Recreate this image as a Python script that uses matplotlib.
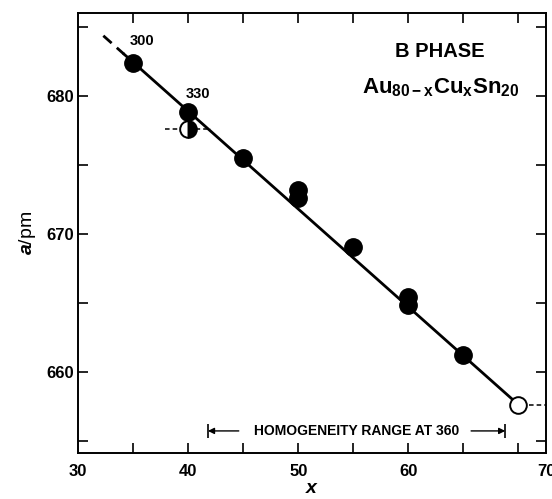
import matplotlib
matplotlib.use('Agg')
import matplotlib.pyplot as plt

# lattice parameter a vs x for Au(80-x)Cu(x)Sn(20), B phase
x_filled = [35, 40, 45, 50, 50, 55, 60, 60, 65]
a_filled = [682.4, 678.8, 675.5, 673.2, 672.6, 669.0, 665.4, 664.8, 661.2]
x_open = [40, 70]
a_open = [677.6, 657.6]
temp_labels = ['300', '330']
temp_x = [35.8, 40.9]
temp_a = [684.0, 680.1]
fit_x_dash = [32.3, 34.2]
fit_x_solid = [34.2, 70]
fit_a_dash = [684.35, 683.0]
fit_a_solid = [683.0, 657.6]
homog_range = [41.8, 68.8]
homog_a = 655.7

plt.rcParams['font.family'] = ['Liberation Sans', 'DejaVu Sans']
plt.rcParams['font.weight'] = 'bold'
plt.rcParams['mathtext.fontset'] = 'custom'
plt.rcParams['mathtext.rm'] = 'Liberation Sans:bold'
plt.rcParams['mathtext.it'] = 'Liberation Sans:italic:bold'

fig = plt.figure(figsize=(5.52, 4.99), dpi=100)
ax = fig.add_axes([0.1413, 0.0922, 0.8478, 0.8818])
ax.set_xlim(30, 72.5)
ax.set_ylim(654.1, 686.0)

ax.plot(fit_x_solid, fit_a_solid, color='black', lw=2, zorder=2)
ax.plot(fit_x_dash, fit_a_dash, color='black', lw=2, dashes=(4, 2.5), zorder=2)

# dashed guides through the open symbols
ax.plot([x_open[0] - 2.1, x_open[0] + 2.1], [a_open[0]] * 2, color='black', lw=1.1, dashes=(3, 2), zorder=1)
ax.plot([x_open[1] + 1.0, 72.5], [a_open[1]] * 2, color='black', lw=1.1, dashes=(3, 2), zorder=1)

ax.plot(x_open[:1], a_open[:1], 'o', ms=12, mec='black', mew=1.4, fillstyle='right',
        mfc='black', markerfacecoloralt='white', zorder=3)
ax.plot(x_open[1:], a_open[1:], 'o', ms=12, mec='black', mew=1.4, mfc='white', zorder=3)
ax.plot(x_filled, a_filled, 'o', ms=12.5, color='black', zorder=4)

for t, tx, ta in zip(temp_labels, temp_x, temp_a):
    ax.text(tx, ta, t, fontsize=10.5, ha='center', va='center')

ax.text(62.9, 683.2, 'B PHASE', fontsize=14.5, ha='center', va='center')
ax.text(62.9, 680.6, r'Au$_{\mathrm{80-x}}$Cu$_{\mathrm{x}}$Sn$_{\mathrm{20}}$', fontsize=16, ha='center', va='center')

# homogeneity range
ax.text(sum(homog_range) / 2, homog_a, 'HOMOGENEITY RANGE AT 360', fontsize=10, ha='center', va='center')
ax.annotate('', xy=(homog_range[0], homog_a), xytext=(44.6, homog_a),
            arrowprops=dict(arrowstyle='-|>', color='black', lw=1, mutation_scale=9, shrinkA=0, shrinkB=0))
ax.annotate('', xy=(homog_range[1], homog_a), xytext=(65.7, homog_a),
            arrowprops=dict(arrowstyle='-|>', color='black', lw=1, mutation_scale=9, shrinkA=0, shrinkB=0))
ax.plot(homog_range, [homog_a] * 2, '|', color='black', ms=10, mew=1.2)

ax.set_xticks([30, 40, 50, 60, 72.5])
ax.set_xticklabels(['30', '40', '50', '60', '70'])
ax.set_xticks([35, 45, 55, 65, 70], minor=True)
ax.set_yticks([660, 670, 680])
ax.set_yticks([655, 665, 675, 685], minor=True)
ax.tick_params(which='both', direction='in', top=True, right=True, length=7, width=1.2,
               labelsize=12, pad=3)
ax.tick_params(axis='x', which='major', length=0, pad=8)
for t in ax.xaxis.get_major_ticks()[1:4]:
    t.tick1line.set_markersize(7)
    t.tick2line.set_markersize(7)
for s in ax.spines.values():
    s.set_linewidth(1.4)

ax.set_ylabel(r'$\it{a}$/pm', fontsize=14, labelpad=6, fontweight='normal')
ax.set_xlabel(r'$\it{x}$', fontsize=14, labelpad=1)

fig.savefig('out.png', dpi=100)
